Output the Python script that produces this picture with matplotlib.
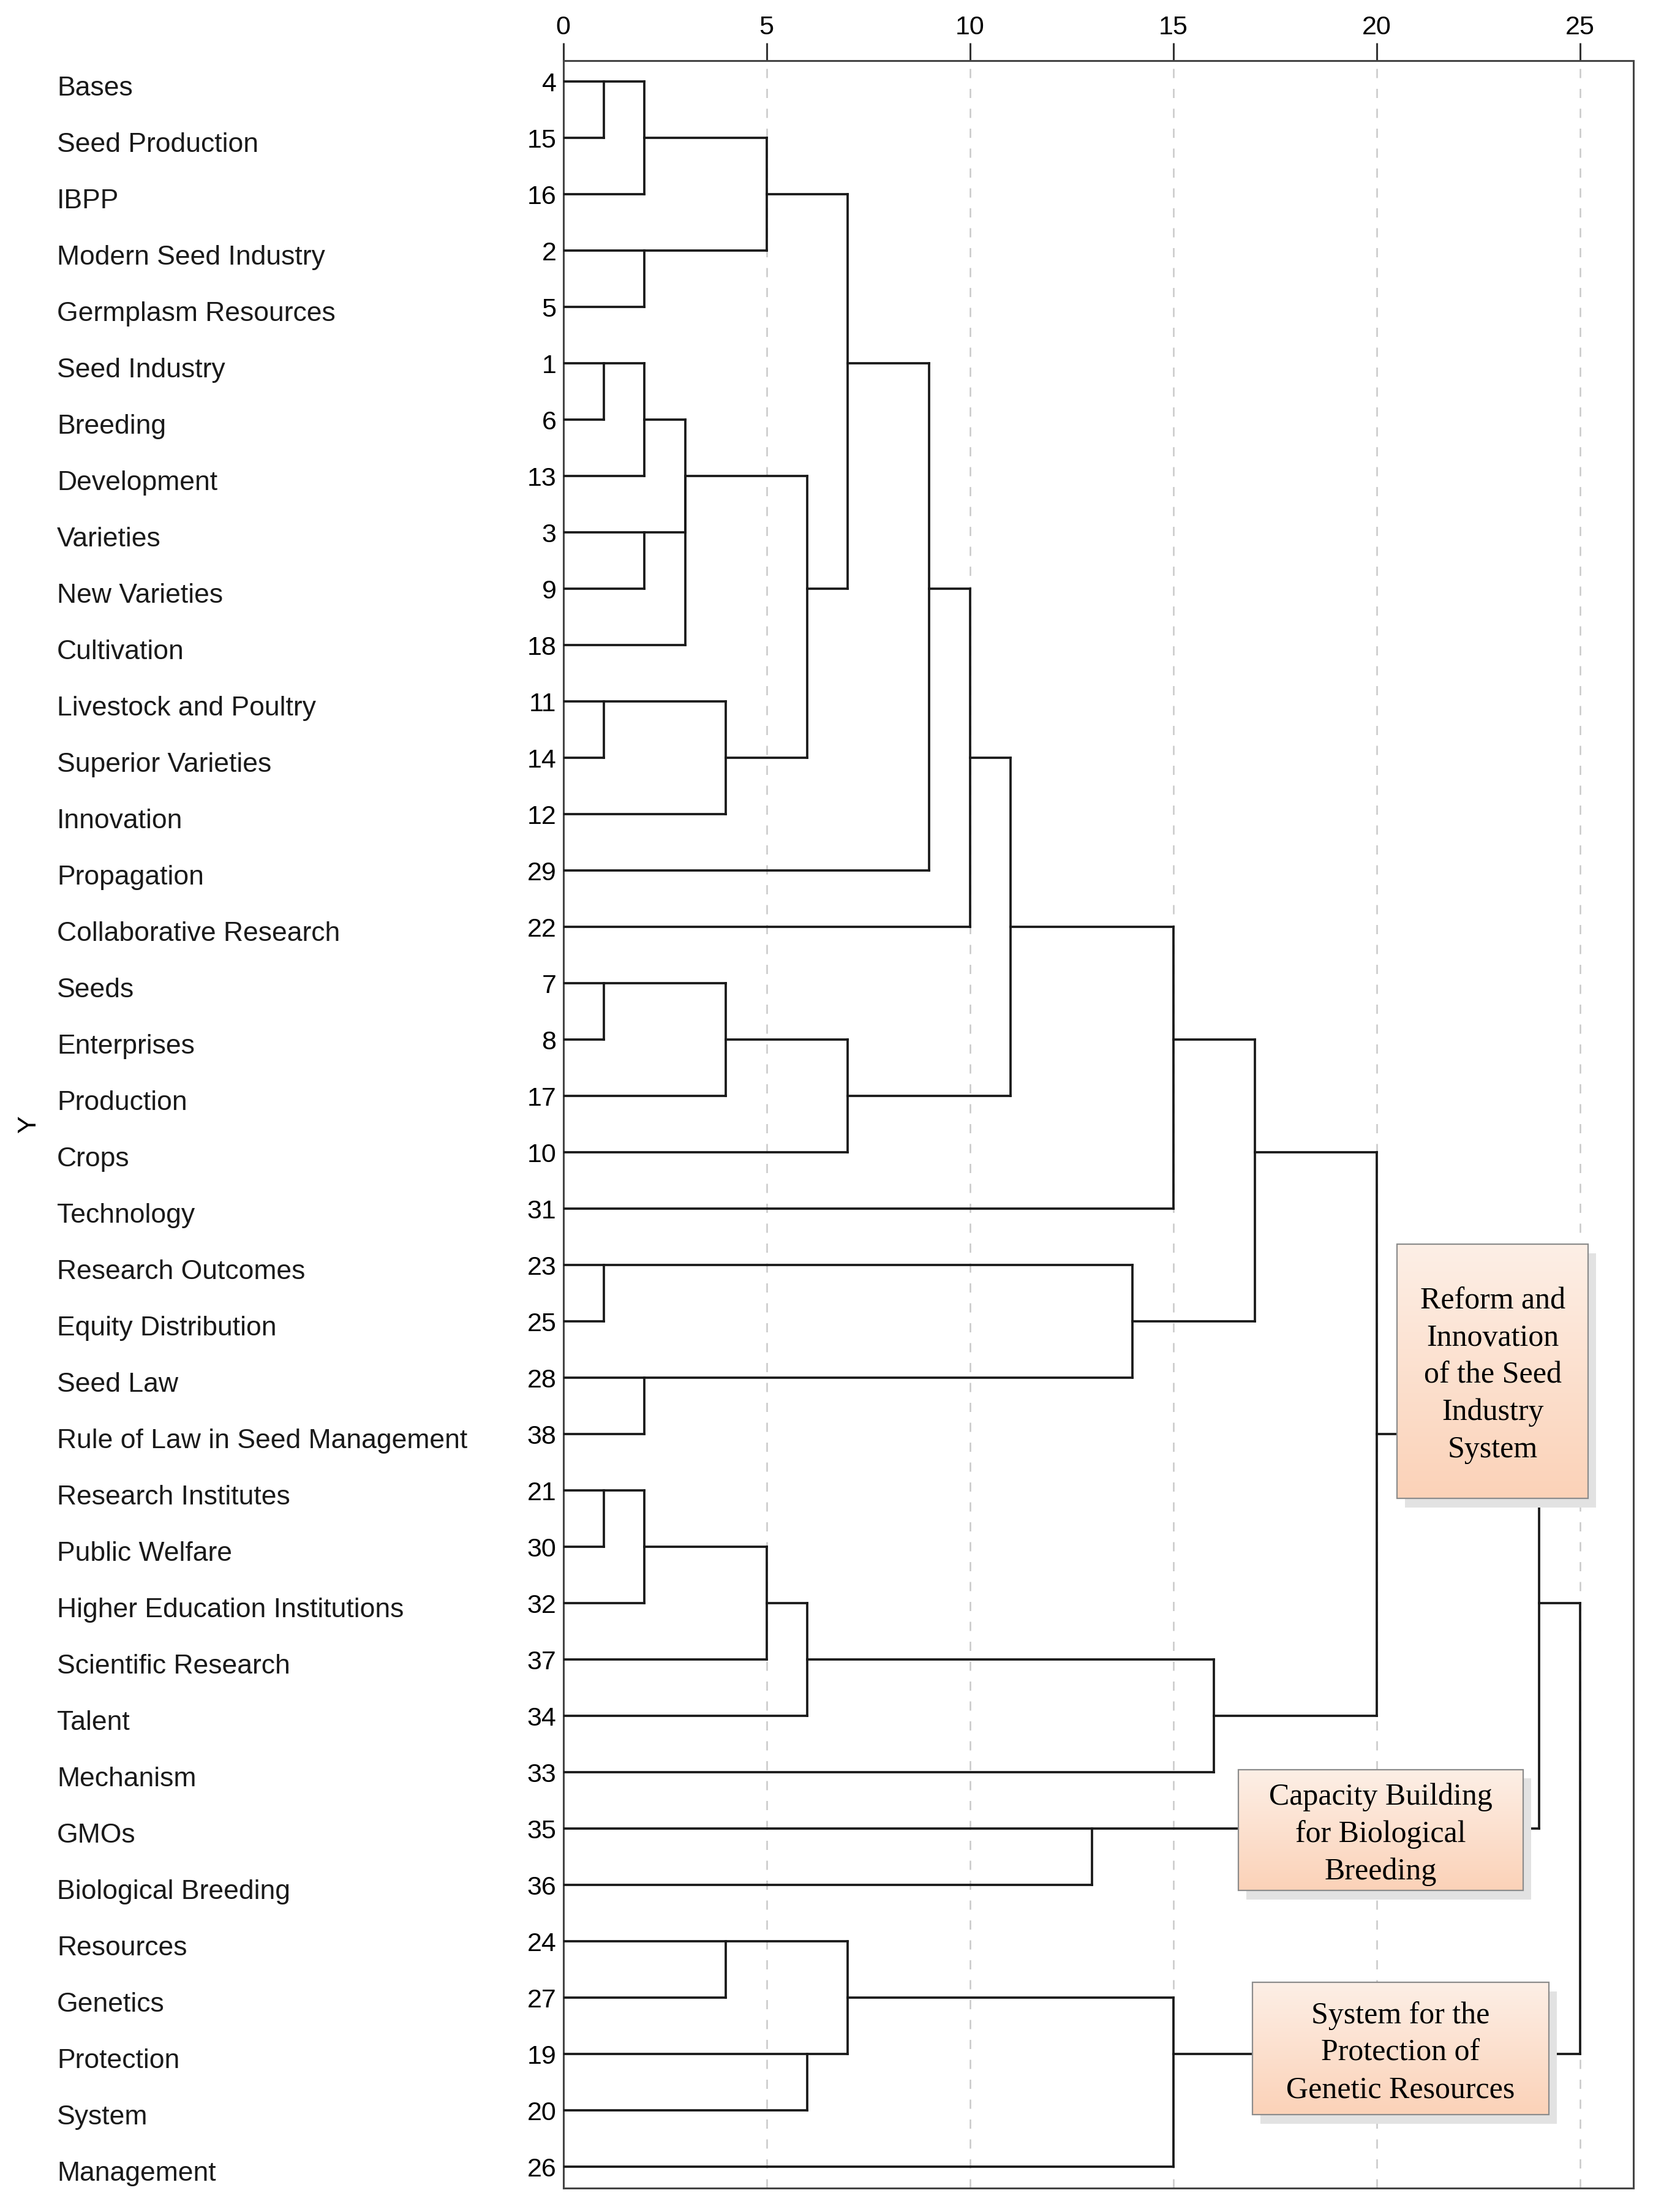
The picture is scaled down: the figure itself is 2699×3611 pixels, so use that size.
import numpy as np
import matplotlib
matplotlib.use("Agg")
import matplotlib.pyplot as plt
from matplotlib.patches import Rectangle
from matplotlib.colors import LinearSegmentedColormap
import matplotlib.transforms as mtransforms

plt.rcParams['font.family'] = ['Liberation Sans', 'DejaVu Sans']

# leaves, top to bottom
labels = ["Bases", "Seed Production", "IBPP", "Modern Seed Industry", "Germplasm Resources",
          "Seed Industry", "Breeding", "Development", "Varieties", "New Varieties",
          "Cultivation", "Livestock and Poultry", "Superior Varieties", "Innovation",
          "Propagation", "Collaborative Research", "Seeds", "Enterprises", "Production",
          "Crops", "Technology", "Research Outcomes", "Equity Distribution", "Seed Law",
          "Rule of Law in Seed Management", "Research Institutes", "Public Welfare",
          "Higher Education Institutions", "Scientific Research", "Talent", "Mechanism",
          "GMOs", "Biological Breeding", "Resources", "Genetics", "Protection", "System",
          "Management"]
case_ids = [4, 15, 16, 2, 5, 1, 6, 13, 3, 9, 18, 11, 14, 12, 29, 22, 7, 8, 17, 10, 31,
            23, 25, 28, 38, 21, 30, 32, 37, 34, 33, 35, 36, 24, 27, 19, 20, 26]

# merges: node ids < 38 are leaves (row index), 38+k is merge k
merge_a = [0, 38, 3, 39, 5, 42, 8, 43, 45, 11, 47, 46, 41, 50, 51, 16, 53, 54, 52,
           56, 21, 23, 58, 57, 25, 62, 63, 64, 65, 61, 31, 67, 33, 35, 70, 72, 69]
merge_b = [1, 2, 4, 40, 6, 7, 9, 44, 10, 12, 13, 48, 49, 14, 15, 17, 18, 19, 55,
           20, 22, 24, 59, 60, 26, 27, 28, 29, 30, 66, 32, 68, 34, 36, 71, 37, 73]
merge_h = [1, 2, 2, 5, 1, 2, 2, 3, 3, 1, 4, 6, 7, 9, 10, 1, 4, 7, 11,
           15, 1, 2, 14, 17, 1, 2, 5, 6, 16, 20, 13, 24, 4, 6, 7, 15, 25]
merge_row = [0, 1, 3, 2, 5, 6, 8, 7, 7, 11, 12, 9, 5, 9, 12, 16, 17, 18, 15,
             17, 21, 23, 22, 19, 25, 26, 27, 28, 29, 24, 31, 27, 33, 35, 34, 35, np.nan]

# cluster annotation boxes
box_text = ["Reform and\nInnovation\nof the Seed\nIndustry\nSystem",
            "Capacity Building\nfor Biological\nBreeding",
            "System for the\nProtection of\nGenetic Resources"]
box_x = [(20.5, 25.2), (16.6, 23.6), (16.94, 24.23)]
box_rows = [(20.63, 25.14), (29.95, 32.1), (33.73, 36.08)]

n = len(labels)
fig = plt.figure(figsize=(26.99, 36.11), dpi=100)
ax = fig.add_axes([0.3407, 0.0109, 0.9881 - 0.3407, 0.9727 - 0.0109])

line_c = '#1a1a1a'
lw = 2.7

def node_h(i):
    return 0 if i < n else merge_h[i - n]

def node_row(i):
    return i if i < n else merge_row[i - n]

for k in range(len(merge_h)):
    h = merge_h[k]
    rows = []
    for c in (merge_a[k], merge_b[k]):
        r = node_row(c)
        rows.append(r)
        ax.plot([node_h(c), h], [r, r], color=line_c, lw=lw, solid_capstyle='projecting', zorder=3)
    ax.plot([h, h], [min(rows), max(rows)], color=line_c, lw=lw, solid_capstyle='projecting', zorder=3)

# dashed grid
for gx in [5, 10, 15, 20, 25]:
    ax.axvline(gx, color='#c9c9c9', lw=1.8, ls=(0, (6, 7)), zorder=1)

# boxes
cmap = LinearSegmentedColormap.from_list('peach', ['#fdefe6', '#fbd2b8'])
grad = np.linspace(0, 1, 256).reshape(-1, 1)
for txt, (x0, x1), (r0, r1) in zip(box_text, box_x, box_rows):
    ax.add_patch(Rectangle((x0 + 0.2, r0 + 0.16), x1 - x0, r1 - r0, facecolor='#e2e2e2',
                           edgecolor='none', zorder=5))
    ax.imshow(grad, cmap=cmap, extent=(x0, x1, r1, r0), origin='upper', aspect='auto', zorder=6)
    ax.add_patch(Rectangle((x0, r0), x1 - x0, r1 - r0, fill=False, edgecolor='#8c8c8c',
                           lw=1.6, zorder=7))
    ax.text((x0 + x1) / 2, (r0 + r1) / 2 + 0.075, txt, ha='center', va='center', fontsize=36,
            family=['Liberation Serif', 'DejaVu Serif'], linespacing=1.4, zorder=8)

ax.set_xlim(0, 26.31)
ax.set_ylim(n - 1 + 0.375, -0.375)

ax.xaxis.tick_top()
ax.set_xticks([0, 5, 10, 15, 20, 25])
ax.tick_params(axis='x', length=21, width=2.2, color='#333333', labelsize=31, pad=3)
ax.set_yticks(range(n))
ax.set_yticklabels([str(c) for c in case_ids])
ax.tick_params(axis='y', length=0, labelsize=31, pad=8)
for s in ax.spines.values():
    s.set_linewidth(2.2)
    s.set_color('#444444')

trans = mtransforms.blended_transform_factory(fig.transFigure, ax.transData)
for i, lab in enumerate(labels):
    ax.text(0.0345, i + 0.07, lab, transform=trans, ha='left', va='center_baseline',
            fontsize=32, color='#1a1a1a')

fig.text(0.0175, 0.492, 'Y', rotation=90, ha='center', va='center', fontsize=31)

fig.savefig('out.png', dpi=100, facecolor='white')
